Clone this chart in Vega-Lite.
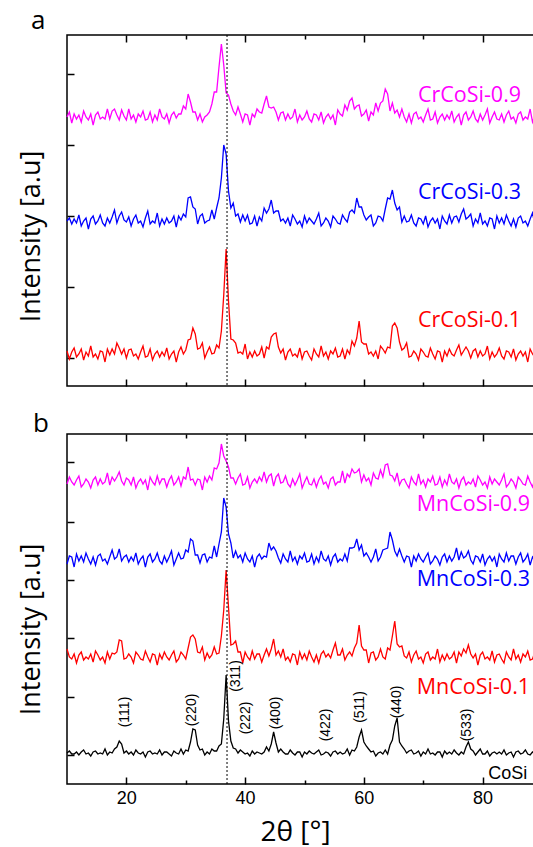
{
"$schema":"https://vega.github.io/schema/vega-lite/v6.json",
"background":"white",
"padding":{"left":16,"top":7,"right":0,"bottom":0},
"spacing":48,
"bounds":"flush",
"config":{"view":{"stroke":"black","strokeWidth":1.5},"axis":{"grid":false,"domain":false,"tickColor":"black","tickWidth":1.5,"labelColor":"black","titleColor":"black"}},
"datasets":{"xrd":[
{"x":10,"a1":35,"a3":165,"a9":269,"b1":135,"b3":220,"b9":300,"c":31},
{"x":10.4,"a1":27,"a3":168,"a9":274,"b1":127,"b3":228,"b9":307,"c":33},
{"x":10.8,"a1":34,"a3":162,"a9":263,"b1":125,"b3":227,"b9":302,"c":30},
{"x":11.2,"a1":38,"a3":167,"a9":272,"b1":130,"b3":217,"b9":299,"c":30},
{"x":11.6,"a1":29,"a3":163,"a9":267,"b1":121,"b3":230,"b9":304,"c":32},
{"x":12,"a1":32,"a3":171,"a9":271,"b1":129,"b3":223,"b9":308,"c":29},
{"x":12.4,"a1":37,"a3":160,"a9":264,"b1":132,"b3":228,"b9":297,"c":32},
{"x":12.8,"a1":26,"a3":165,"a9":275,"b1":124,"b3":222,"b9":300,"c":34},
{"x":13.2,"a1":34,"a3":168,"a9":269,"b1":127,"b3":231,"b9":305,"c":30},
{"x":13.6,"a1":30,"a3":157,"a9":266,"b1":125,"b3":225,"b9":302,"c":31},
{"x":14,"a1":40,"a3":167,"a9":272,"b1":130,"b3":220,"b9":296,"c":28},
{"x":14.4,"a1":29,"a3":170,"a9":261,"b1":122,"b3":227,"b9":304,"c":32},
{"x":14.8,"a1":32,"a3":162,"a9":271,"b1":133,"b3":219,"b9":307,"c":33},
{"x":15.2,"a1":27,"a3":165,"a9":274,"b1":129,"b3":228,"b9":299,"c":30},
{"x":15.6,"a1":35,"a3":171,"a9":267,"b1":124,"b3":230,"b9":305,"c":31},
{"x":16,"a1":34,"a3":163,"a9":269,"b1":127,"b3":223,"b9":300,"c":30},
{"x":16.4,"a1":24,"a3":160,"a9":267,"b1":121,"b3":225,"b9":302,"c":35},
{"x":16.8,"a1":37,"a3":168,"a9":277,"b1":132,"b3":220,"b9":311,"c":29},
{"x":17.2,"a1":31,"a3":163,"a9":267,"b1":125,"b3":227,"b9":299,"c":32},
{"x":17.6,"a1":37,"a3":169,"a9":275,"b1":131,"b3":234,"b9":307,"c":31},
{"x":18,"a1":32,"a3":176,"a9":277,"b1":130,"b3":225,"b9":303,"c":35},
{"x":18.4,"a1":43,"a3":163,"a9":271,"b1":132,"b3":227,"b9":307,"c":37},
{"x":18.8,"a1":38,"a3":170,"a9":266,"b1":144,"b3":235,"b9":312,"c":43},
{"x":19.2,"a1":32,"a3":174,"a9":276,"b1":143,"b3":223,"b9":303,"c":40},
{"x":19.6,"a1":37,"a3":166,"a9":270,"b1":125,"b3":227,"b9":299,"c":31},
{"x":20,"a1":28,"a3":164,"a9":266,"b1":126,"b3":229,"b9":306,"c":33},
{"x":20.4,"a1":36,"a3":169,"a9":277,"b1":130,"b3":222,"b9":304,"c":30},
{"x":20.8,"a1":37,"a3":160,"a9":267,"b1":127,"b3":227,"b9":299,"c":32},
{"x":21.2,"a1":30,"a3":167,"a9":271,"b1":121,"b3":223,"b9":307,"c":29},
{"x":21.6,"a1":32,"a3":171,"a9":264,"b1":132,"b3":231,"b9":296,"c":34},
{"x":22,"a1":27,"a3":163,"a9":272,"b1":129,"b3":220,"b9":302,"c":31},
{"x":22.4,"a1":34,"a3":165,"a9":269,"b1":125,"b3":225,"b9":305,"c":30},
{"x":22.8,"a1":40,"a3":159,"a9":275,"b1":124,"b3":228,"b9":300,"c":32},
{"x":23.2,"a1":29,"a3":168,"a9":266,"b1":133,"b3":217,"b9":304,"c":27},
{"x":23.6,"a1":30,"a3":175,"a9":267,"b1":127,"b3":227,"b9":294,"c":32},
{"x":24,"a1":37,"a3":162,"a9":274,"b1":122,"b3":230,"b9":307,"c":33},
{"x":24.4,"a1":26,"a3":165,"a9":264,"b1":130,"b3":222,"b9":302,"c":30},
{"x":24.8,"a1":32,"a3":163,"a9":271,"b1":129,"b3":225,"b9":299,"c":31},
{"x":25.2,"a1":35,"a3":173,"a9":266,"b1":119,"b3":231,"b9":308,"c":30},
{"x":25.6,"a1":29,"a3":160,"a9":277,"b1":130,"b3":223,"b9":300,"c":34},
{"x":26,"a1":34,"a3":167,"a9":269,"b1":125,"b3":220,"b9":305,"c":29},
{"x":26.4,"a1":30,"a3":162,"a9":267,"b1":132,"b3":228,"b9":305,"c":32},
{"x":26.8,"a1":38,"a3":168,"a9":272,"b1":127,"b3":222,"b9":297,"c":32},
{"x":27.2,"a1":27,"a3":163,"a9":263,"b1":124,"b3":227,"b9":304,"c":30},
{"x":27.6,"a1":32,"a3":165,"a9":271,"b1":129,"b3":233,"b9":308,"c":28},
{"x":28,"a1":35,"a3":170,"a9":274,"b1":133,"b3":219,"b9":299,"c":33},
{"x":28.4,"a1":24,"a3":159,"a9":268,"b1":122,"b3":225,"b9":302,"c":31},
{"x":28.8,"a1":34,"a3":170,"a9":272,"b1":125,"b3":231,"b9":307,"c":30},
{"x":29.2,"a1":39,"a3":166,"a9":272,"b1":132,"b3":225,"b9":298,"c":35},
{"x":29.6,"a1":32,"a3":172,"a9":280,"b1":129,"b3":226,"b9":307,"c":30},
{"x":30,"a1":36,"a3":169,"a9":277,"b1":125,"b3":234,"b9":305,"c":34},
{"x":30.4,"a1":46,"a3":188,"a9":292,"b1":136,"b3":232,"b9":317,"c":33},
{"x":30.8,"a1":47,"a3":189,"a9":284,"b1":147,"b3":245,"b9":304,"c":42},
{"x":31.2,"a1":58,"a3":179,"a9":274,"b1":149,"b3":243,"b9":305,"c":55},
{"x":31.6,"a1":52,"a3":177,"a9":274,"b1":145,"b3":229,"b9":299,"c":54},
{"x":32,"a1":37,"a3":162,"a9":266,"b1":132,"b3":229,"b9":305,"c":39},
{"x":32.4,"a1":38,"a3":170,"a9":272,"b1":131,"b3":221,"b9":304,"c":34},
{"x":32.8,"a1":43,"a3":172,"a9":264,"b1":137,"b3":229,"b9":294,"c":35},
{"x":33.2,"a1":28,"a3":163,"a9":269,"b1":124,"b3":230,"b9":307,"c":29},
{"x":33.6,"a1":34,"a3":165,"a9":271,"b1":131,"b3":222,"b9":302,"c":32},
{"x":34,"a1":39,"a3":166,"a9":274,"b1":126,"b3":227,"b9":308,"c":30},
{"x":34.4,"a1":32,"a3":176,"a9":282,"b1":129,"b3":226,"b9":304,"c":35},
{"x":34.8,"a1":33,"a3":167,"a9":294,"b1":137,"b3":238,"b9":316,"c":33},
{"x":35.2,"a1":41,"a3":178,"a9":294,"b1":130,"b3":227,"b9":315,"c":33},
{"x":35.6,"a1":38,"a3":188,"a9":319,"b1":131,"b3":240,"b9":321,"c":38},
{"x":36,"a1":55,"a3":208,"a9":342,"b1":148,"b3":252,"b9":340,"c":40},
{"x":36.4,"a1":91,"a3":241,"a9":321,"b1":174,"b3":286,"b9":328,"c":65},
{"x":36.8,"a1":137,"a3":232,"a9":293,"b1":214,"b3":277,"b9":323,"c":109},
{"x":37.2,"a1":85,"a3":195,"a9":291,"b1":177,"b3":250,"b9":317,"c":63},
{"x":37.6,"a1":47,"a3":178,"a9":282,"b1":139,"b3":241,"b9":306,"c":43},
{"x":38,"a1":46,"a3":183,"a9":275,"b1":140,"b3":226,"b9":306,"c":36},
{"x":38.4,"a1":43,"a3":170,"a9":271,"b1":143,"b3":233,"b9":300,"c":35},
{"x":38.8,"a1":33,"a3":172,"a9":279,"b1":132,"b3":226,"b9":306,"c":31},
{"x":39.2,"a1":34,"a3":164,"a9":272,"b1":132,"b3":229,"b9":310,"c":34},
{"x":39.6,"a1":32,"a3":171,"a9":264,"b1":121,"b3":222,"b9":299,"c":32},
{"x":40,"a1":42,"a3":165,"a9":272,"b1":132,"b3":231,"b9":300,"c":30},
{"x":40.4,"a1":27,"a3":171,"a9":271,"b1":127,"b3":225,"b9":307,"c":31},
{"x":40.8,"a1":34,"a3":162,"a9":261,"b1":124,"b3":222,"b9":296,"c":28},
{"x":41.2,"a1":29,"a3":163,"a9":272,"b1":133,"b3":228,"b9":302,"c":33},
{"x":41.6,"a1":35,"a3":170,"a9":269,"b1":125,"b3":217,"b9":305,"c":30},
{"x":42,"a1":30,"a3":160,"a9":277,"b1":130,"b3":227,"b9":301,"c":32},
{"x":42.4,"a1":32,"a3":169,"a9":274,"b1":130,"b3":230,"b9":307,"c":31},
{"x":42.8,"a1":39,"a3":165,"a9":273,"b1":122,"b3":225,"b9":303,"c":30},
{"x":43.2,"a1":28,"a3":178,"a9":282,"b1":129,"b3":228,"b9":312,"c":32},
{"x":43.6,"a1":39,"a3":173,"a9":290,"b1":135,"b3":227,"b9":302,"c":37},
{"x":44,"a1":37,"a3":177,"a9":279,"b1":128,"b3":241,"b9":308,"c":33},
{"x":44.4,"a1":49,"a3":186,"a9":278,"b1":135,"b3":234,"b9":310,"c":40},
{"x":44.8,"a1":52,"a3":173,"a9":279,"b1":145,"b3":237,"b9":298,"c":52},
{"x":45.2,"a1":53,"a3":175,"a9":274,"b1":129,"b3":233,"b9":307,"c":41},
{"x":45.6,"a1":39,"a3":175,"a9":266,"b1":133,"b3":226,"b9":310,"c":32},
{"x":46,"a1":33,"a3":165,"a9":273,"b1":127,"b3":221,"b9":301,"c":35},
{"x":46.4,"a1":37,"a3":167,"a9":274,"b1":135,"b3":230,"b9":302,"c":32},
{"x":46.8,"a1":26,"a3":163,"a9":266,"b1":124,"b3":225,"b9":308,"c":30},
{"x":47.2,"a1":34,"a3":168,"a9":272,"b1":127,"b3":222,"b9":300,"c":30},
{"x":47.6,"a1":37,"a3":160,"a9":267,"b1":122,"b3":233,"b9":297,"c":34},
{"x":48,"a1":30,"a3":171,"a9":269,"b1":130,"b3":223,"b9":305,"c":31},
{"x":48.4,"a1":32,"a3":167,"a9":277,"b1":129,"b3":227,"b9":299,"c":29},
{"x":48.8,"a1":29,"a3":162,"a9":264,"b1":119,"b3":220,"b9":304,"c":32},
{"x":49.2,"a1":38,"a3":165,"a9":271,"b1":132,"b3":228,"b9":310,"c":32},
{"x":49.6,"a1":27,"a3":159,"a9":266,"b1":125,"b3":225,"b9":296,"c":27},
{"x":50,"a1":34,"a3":170,"a9":269,"b1":130,"b3":231,"b9":302,"c":32},
{"x":50.4,"a1":35,"a3":163,"a9":275,"b1":124,"b3":222,"b9":307,"c":30},
{"x":50.8,"a1":30,"a3":168,"a9":267,"b1":133,"b3":223,"b9":300,"c":33},
{"x":51.2,"a1":26,"a3":165,"a9":264,"b1":127,"b3":230,"b9":299,"c":31},
{"x":51.6,"a1":37,"a3":162,"a9":272,"b1":122,"b3":220,"b9":305,"c":30},
{"x":52,"a1":32,"a3":167,"a9":271,"b1":129,"b3":227,"b9":297,"c":32},
{"x":52.4,"a1":29,"a3":173,"a9":266,"b1":121,"b3":222,"b9":304,"c":34},
{"x":52.8,"a1":40,"a3":160,"a9":274,"b1":130,"b3":233,"b9":308,"c":29},
{"x":53.2,"a1":30,"a3":163,"a9":263,"b1":133,"b3":225,"b9":300,"c":30},
{"x":53.6,"a1":34,"a3":168,"a9":269,"b1":127,"b3":223,"b9":302,"c":32},
{"x":54,"a1":27,"a3":165,"a9":272,"b1":130,"b3":228,"b9":296,"c":31},
{"x":54.4,"a1":35,"a3":159,"a9":267,"b1":126,"b3":219,"b9":305,"c":28},
{"x":54.8,"a1":32,"a3":170,"a9":271,"b1":134,"b3":227,"b9":307,"c":32},
{"x":55.2,"a1":38,"a3":167,"a9":261,"b1":141,"b3":230,"b9":299,"c":33},
{"x":55.6,"a1":29,"a3":163,"a9":276,"b1":129,"b3":222,"b9":302,"c":30},
{"x":56,"a1":30,"a3":162,"a9":272,"b1":129,"b3":225,"b9":302,"c":32},
{"x":56.4,"a1":37,"a3":171,"a9":270,"b1":135,"b3":223,"b9":313,"c":30},
{"x":56.8,"a1":27,"a3":167,"a9":281,"b1":124,"b3":230,"b9":301,"c":31},
{"x":57.2,"a1":36,"a3":164,"a9":276,"b1":129,"b3":223,"b9":310,"c":35},
{"x":57.6,"a1":32,"a3":174,"a9":285,"b1":132,"b3":236,"b9":307,"c":29},
{"x":58,"a1":45,"a3":176,"a9":288,"b1":128,"b3":236,"b9":315,"c":34},
{"x":58.4,"a1":40,"a3":173,"a9":277,"b1":136,"b3":237,"b9":311,"c":33},
{"x":58.8,"a1":48,"a3":188,"a9":280,"b1":141,"b3":245,"b9":312,"c":37},
{"x":59.2,"a1":65,"a3":179,"a9":281,"b1":159,"b3":234,"b9":315,"c":47},
{"x":59.6,"a1":44,"a3":179,"a9":270,"b1":138,"b3":239,"b9":302,"c":54},
{"x":60,"a1":42,"a3":171,"a9":272,"b1":134,"b3":228,"b9":309,"c":42},
{"x":60.4,"a1":42,"a3":166,"a9":276,"b1":134,"b3":231,"b9":303,"c":38},
{"x":60.8,"a1":32,"a3":169,"a9":265,"b1":121,"b3":227,"b9":306,"c":35},
{"x":61.2,"a1":34,"a3":171,"a9":274,"b1":131,"b3":222,"b9":299,"c":32},
{"x":61.6,"a1":30,"a3":160,"a9":271,"b1":132,"b3":227,"b9":311,"c":33},
{"x":62,"a1":35,"a3":163,"a9":283,"b1":124,"b3":235,"b9":306,"c":28},
{"x":62.4,"a1":27,"a3":170,"a9":275,"b1":127,"b3":223,"b9":305,"c":31},
{"x":62.8,"a1":40,"a3":169,"a9":283,"b1":135,"b3":227,"b9":314,"c":32},
{"x":63.2,"a1":37,"a3":165,"a9":285,"b1":127,"b3":234,"b9":307,"c":30},
{"x":63.6,"a1":33,"a3":177,"a9":297,"b1":125,"b3":235,"b9":319,"c":34},
{"x":64,"a1":39,"a3":188,"a9":292,"b1":136,"b3":236,"b9":320,"c":30},
{"x":64.4,"a1":38,"a3":187,"a9":275,"b1":134,"b3":252,"b9":309,"c":39},
{"x":64.8,"a1":60,"a3":196,"a9":283,"b1":148,"b3":244,"b9":308,"c":44},
{"x":65.2,"a1":63,"a3":183,"a9":273,"b1":163,"b3":233,"b9":303,"c":58},
{"x":65.6,"a1":58,"a3":176,"a9":276,"b1":140,"b3":228,"b9":311,"c":66},
{"x":66,"a1":44,"a3":179,"a9":269,"b1":137,"b3":235,"b9":299,"c":42},
{"x":66.4,"a1":36,"a3":164,"a9":277,"b1":138,"b3":228,"b9":304,"c":38},
{"x":66.8,"a1":38,"a3":170,"a9":269,"b1":128,"b3":222,"b9":305,"c":35},
{"x":67.2,"a1":43,"a3":164,"a9":264,"b1":126,"b3":228,"b9":300,"c":31},
{"x":67.6,"a1":29,"a3":165,"a9":272,"b1":132,"b3":227,"b9":296,"c":33},
{"x":68,"a1":30,"a3":171,"a9":263,"b1":122,"b3":217,"b9":307,"c":34},
{"x":68.4,"a1":35,"a3":163,"a9":272,"b1":129,"b3":228,"b9":302,"c":30},
{"x":68.8,"a1":32,"a3":160,"a9":274,"b1":133,"b3":223,"b9":299,"c":31},
{"x":69.2,"a1":26,"a3":168,"a9":267,"b1":125,"b3":230,"b9":310,"c":33},
{"x":69.6,"a1":37,"a3":167,"a9":269,"b1":127,"b3":225,"b9":300,"c":28},
{"x":70,"a1":34,"a3":162,"a9":264,"b1":121,"b3":222,"b9":304,"c":32},
{"x":70.4,"a1":30,"a3":170,"a9":271,"b1":130,"b3":227,"b9":297,"c":30},
{"x":70.8,"a1":29,"a3":159,"a9":277,"b1":132,"b3":231,"b9":305,"c":35},
{"x":71.2,"a1":38,"a3":165,"a9":266,"b1":124,"b3":220,"b9":302,"c":30},
{"x":71.6,"a1":32,"a3":168,"a9":267,"b1":127,"b3":223,"b9":308,"c":31},
{"x":72,"a1":27,"a3":163,"a9":274,"b1":125,"b3":228,"b9":299,"c":29},
{"x":72.4,"a1":35,"a3":167,"a9":263,"b1":135,"b3":225,"b9":300,"c":32},
{"x":72.8,"a1":34,"a3":157,"a9":269,"b1":122,"b3":219,"b9":307,"c":32},
{"x":73.2,"a1":24,"a3":170,"a9":272,"b1":129,"b3":227,"b9":297,"c":27},
{"x":73.6,"a1":35,"a3":165,"a9":266,"b1":124,"b3":230,"b9":304,"c":33},
{"x":74,"a1":30,"a3":162,"a9":271,"b1":130,"b3":222,"b9":299,"c":30},
{"x":74.4,"a1":37,"a3":171,"a9":267,"b1":125,"b3":228,"b9":310,"c":32},
{"x":74.8,"a1":32,"a3":163,"a9":275,"b1":127,"b3":223,"b9":302,"c":30},
{"x":75.2,"a1":30,"a3":169,"a9":264,"b1":132,"b3":227,"b9":300,"c":34},
{"x":75.6,"a1":36,"a3":170,"a9":269,"b1":121,"b3":236,"b9":305,"c":31},
{"x":76,"a1":41,"a3":164,"a9":272,"b1":132,"b3":224,"b9":296,"c":29},
{"x":76.4,"a1":31,"a3":172,"a9":261,"b1":128,"b3":232,"b9":304,"c":32},
{"x":76.8,"a1":35,"a3":177,"a9":271,"b1":135,"b3":226,"b9":307,"c":30},
{"x":77.2,"a1":39,"a3":167,"a9":274,"b1":131,"b3":228,"b9":299,"c":37},
{"x":77.6,"a1":35,"a3":169,"a9":266,"b1":139,"b3":233,"b9":302,"c":42},
{"x":78,"a1":28,"a3":172,"a9":269,"b1":130,"b3":224,"b9":300,"c":35},
{"x":78.4,"a1":35,"a3":160,"a9":275,"b1":126,"b3":220,"b9":305,"c":33},
{"x":78.8,"a1":37,"a3":167,"a9":267,"b1":130,"b3":228,"b9":297,"c":29},
{"x":79.2,"a1":29,"a3":163,"a9":264,"b1":119,"b3":227,"b9":308,"c":32},
{"x":79.6,"a1":35,"a3":173,"a9":272,"b1":129,"b3":222,"b9":304,"c":35},
{"x":80,"a1":30,"a3":162,"a9":266,"b1":132,"b3":230,"b9":299,"c":30},
{"x":80.4,"a1":32,"a3":165,"a9":271,"b1":125,"b3":219,"b9":302,"c":30},
{"x":80.8,"a1":40,"a3":160,"a9":277,"b1":127,"b3":225,"b9":296,"c":33},
{"x":81.2,"a1":27,"a3":168,"a9":263,"b1":124,"b3":228,"b9":307,"c":28},
{"x":81.6,"a1":34,"a3":167,"a9":269,"b1":133,"b3":223,"b9":300,"c":31},
{"x":82,"a1":29,"a3":157,"a9":274,"b1":122,"b3":227,"b9":305,"c":32},
{"x":82.4,"a1":32,"a3":170,"a9":267,"b1":129,"b3":217,"b9":302,"c":30},
{"x":82.8,"a1":38,"a3":163,"a9":266,"b1":130,"b3":230,"b9":299,"c":32},
{"x":83.2,"a1":30,"a3":168,"a9":272,"b1":125,"b3":225,"b9":304,"c":30},
{"x":83.6,"a1":27,"a3":162,"a9":264,"b1":121,"b3":222,"b9":310,"c":34},
{"x":84,"a1":35,"a3":171,"a9":271,"b1":132,"b3":231,"b9":297,"c":29},
{"x":84.4,"a1":34,"a3":165,"a9":275,"b1":127,"b3":223,"b9":300,"c":31},
{"x":84.8,"a1":29,"a3":160,"a9":267,"b1":124,"b3":228,"b9":305,"c":32},
{"x":85.2,"a1":37,"a3":167,"a9":269,"b1":135,"b3":228,"b9":302,"c":27},
{"x":85.6,"a1":26,"a3":159,"a9":263,"b1":125,"b3":220,"b9":296,"c":32},
{"x":86,"a1":32,"a3":168,"a9":272,"b1":129,"b3":227,"b9":307,"c":33},
{"x":86.4,"a1":35,"a3":170,"a9":274,"b1":122,"b3":231,"b9":304,"c":30},
{"x":86.8,"a1":30,"a3":163,"a9":266,"b1":130,"b3":222,"b9":300,"c":31},
{"x":87.2,"a1":34,"a3":165,"a9":269,"b1":127,"b3":225,"b9":299,"c":34},
{"x":87.6,"a1":24,"a3":160,"a9":267,"b1":133,"b3":230,"b9":308,"c":30},
{"x":88,"a1":37,"a3":167,"a9":277,"b1":124,"b3":219,"b9":302,"c":29},
{"x":88.4,"a1":32,"a3":173,"a9":264,"b1":125,"b3":227,"b9":297,"c":32},
{"x":88.8,"a1":29,"a3":162,"a9":271,"b1":132,"b3":223,"b9":305,"c":30},
{"x":89.2,"a1":38,"a3":163,"a9":266,"b1":122,"b3":233,"b9":304,"c":32},
{"x":89.6,"a1":30,"a3":170,"a9":272,"b1":129,"b3":222,"b9":294,"c":35},
{"x":90,"a1":35,"a3":159,"a9":267,"b1":124,"b3":225,"b9":305,"c":28}
]},
"vconcat":[
{
"width":475,"height":351,
"title":{"text":"a","anchor":"start","dx":14,"offset":-20.5,"fontSize":26,"font":"Open Sans","fontWeight":"normal","color":"black","baseline":"alphabetic"},
"resolve":{"axis":{"x":"independent","y":"independent"}},
"layer":[
{"data":{"name":"xrd"},
"transform":[{"fold":["a1","a3","a9"],"as":["s","v"]}],
"mark":{"type":"line","strokeWidth":1.3},
"encoding":{
"x":{"field":"x","type":"quantitative","scale":{"domain":[10,90],"nice":false,"zero":false},
"axis":{"orient":"bottom","values":[20,30,40,50,60,70,80],"labels":false,"title":null,"tickSize":{"condition":{"test":"datum.value % 20 === 0","value":-7},"value":-4}}},
"y":{"field":"v","type":"quantitative","scale":{"domain":[0,351],"nice":false,"zero":false},
"axis":{"orient":"left","values":[28,99,170,241,312],"labels":false,"tickSize":-7,"title":"Intensity [a.u]","titleFont":"Open Sans","titleFontSize":27,"titleFontWeight":"normal","titleX":-28,"titleY":201,"titleBaseline":"alphabetic","titleAngle":270,"titleAlign":"center"}},
"color":{"field":"s","type":"nominal","scale":{"domain":["a1","a3","a9","b1","b3","b9","c"],"range":["#ff0000","#0000ff","#ff00ff","#ff0000","#0000ff","#ff00ff","#000000"]},"legend":null}
}},
{"data":{"values":[{"s":"a9","t":"CrCoSi-0.9","x":69.1,"y":284},{"s":"a3","t":"CrCoSi-0.3","x":69.1,"y":187.4},{"s":"a1","t":"CrCoSi-0.1","x":69.1,"y":59}]},
"mark":{"type":"text","align":"left","baseline":"alphabetic","fontSize":21.5,"font":"Open Sans"},
"encoding":{
"x":{"field":"x","type":"quantitative","scale":{"domain":[10,90],"nice":false,"zero":false},
"axis":{"orient":"top","values":[20,30,40,50,60,70,80],"labels":false,"title":null,"tickSize":{"condition":{"test":"datum.value % 20 === 0","value":-7},"value":-4}}},
"y":{"field":"y","type":"quantitative","scale":{"domain":[0,351],"nice":false,"zero":false},
"axis":{"orient":"right","values":[28,99,170,241,312],"labels":false,"tickSize":-7,"title":null}},
"color":{"field":"s","type":"nominal","legend":null},
"text":{"field":"t"}
}},
{"data":{"values":[{"x":36.95}]},
"mark":{"type":"rule","strokeDash":[2,2],"color":"black","strokeWidth":1},
"encoding":{"x":{"field":"x","type":"quantitative","scale":{"domain":[10,90],"nice":false,"zero":false},"axis":null}}}
]
},
{
"width":475,"height":350,
"title":{"text":"b","anchor":"start","dx":16,"offset":-24.5,"fontSize":26,"font":"Open Sans","fontWeight":"normal","color":"black","baseline":"alphabetic"},
"resolve":{"axis":{"x":"independent","y":"independent"}},
"layer":[
{"data":{"name":"xrd"},
"transform":[{"fold":["b1","b3","b9","c"],"as":["s","v"]}],
"mark":{"type":"line","strokeWidth":1.3},
"encoding":{
"x":{"field":"x","type":"quantitative","scale":{"domain":[10,90],"nice":false,"zero":false},
"axis":{"orient":"bottom","values":[20,30,40,50,60,70,80],"labels":false,"title":null,"tickSize":{"condition":{"test":"datum.value % 20 === 0","value":-7},"value":-4}}},
"y":{"field":"v","type":"quantitative","scale":{"domain":[0,350],"nice":false,"zero":false},
"axis":{"orient":"left","values":[29,87,146,204,262,322],"labels":false,"tickSize":-7,"title":"Intensity [a.u]","titleFont":"Open Sans","titleFontSize":27,"titleFontWeight":"normal","titleX":-28,"titleY":195,"titleBaseline":"alphabetic","titleAngle":270,"titleAlign":"center"}},
"color":{"field":"s","type":"nominal","scale":{"domain":["a1","a3","a9","b1","b3","b9","c"],"range":["#ff0000","#0000ff","#ff00ff","#ff0000","#0000ff","#ff00ff","#000000"]},"legend":null}
}},
{"data":{"values":[{"s":"b9","t":"MnCoSi-0.9","x":68.9,"y":273.5},{"s":"b3","t":"MnCoSi-0.3","x":68.9,"y":198.5},{"s":"b1","t":"MnCoSi-0.1","x":68.9,"y":90.5}]},
"mark":{"type":"text","align":"left","baseline":"alphabetic","fontSize":21.5,"font":"Open Sans"},
"encoding":{
"x":{"field":"x","type":"quantitative","scale":{"domain":[10,90],"nice":false,"zero":false},
"axis":{"orient":"top","values":[20,30,40,50,60,70,80],"labels":false,"title":null,"tickSize":{"condition":{"test":"datum.value % 20 === 0","value":-7},"value":-4}}},
"y":{"field":"y","type":"quantitative","scale":{"domain":[0,350],"nice":false,"zero":false},
"axis":{"orient":"right","values":[29,87,146,204,262,322],"labels":false,"tickSize":-7,"title":null}},
"color":{"field":"s","type":"nominal","legend":null},
"text":{"field":"t"}
}},
{"data":{"values":[{"h":"(111)","x":19.7,"y":72},{"h":"(220)","x":31.0,"y":74},{"h":"(311)","x":38.5,"y":108},{"h":"(222)","x":40.2,"y":66},{"h":"(400)","x":45.2,"y":71},{"h":"(422)","x":53.7,"y":59},{"h":"(511)","x":59.4,"y":77},{"h":"(440)","x":65.5,"y":82},{"h":"(533)","x":77.35,"y":59}]},
"mark":{"type":"text","angle":270,"align":"center","baseline":"middle","fontSize":14,"font":"Liberation Sans","color":"black"},
"encoding":{
"x":{"field":"x","type":"quantitative","scale":{"domain":[10,90],"nice":false,"zero":false},
"axis":{"orient":"bottom","values":[20,40,60,80],"ticks":false,"tickSize":0,"labelPadding":5,"labelFont":"Liberation Sans","labelFontSize":18,
"title":"2θ [°]","titleFont":"Open Sans","titleFontSize":28,"titleFontWeight":"normal","titleX":228,"titleY":56,"titleBaseline":"alphabetic","titleAlign":"center"}},
"y":{"field":"y","type":"quantitative","scale":{"domain":[0,350],"nice":false,"zero":false},"axis":null},
"text":{"field":"h"}
}},
{"data":{"values":[{"t":"CoSi","x":80.95,"y":5.5}]},
"mark":{"type":"text","align":"left","baseline":"alphabetic","fontSize":18,"font":"Liberation Sans","color":"black"},
"encoding":{
"x":{"field":"x","type":"quantitative","scale":{"domain":[10,90],"nice":false,"zero":false},"axis":null},
"y":{"field":"y","type":"quantitative","scale":{"domain":[0,350],"nice":false,"zero":false},"axis":null},
"text":{"field":"t"}
}},
{"data":{"values":[{"x":36.95}]},
"mark":{"type":"rule","strokeDash":[2,2],"color":"black","strokeWidth":1},
"encoding":{"x":{"field":"x","type":"quantitative","scale":{"domain":[10,90],"nice":false,"zero":false},"axis":null}}}
]
}
]
}
